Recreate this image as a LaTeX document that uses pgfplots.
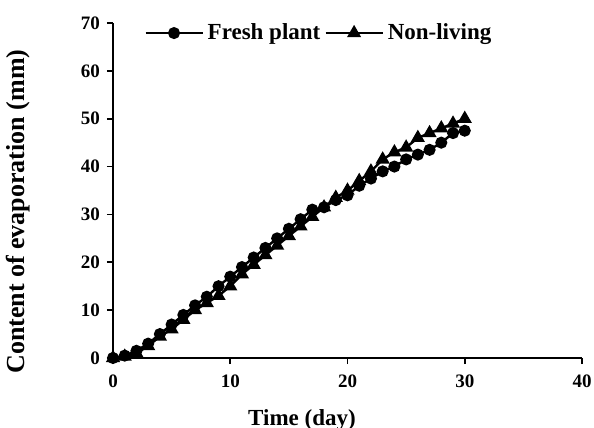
\documentclass[border=0pt]{standalone}
\usepackage{fontspec}
\setmainfont{Liberation Serif}
\usepackage{pgfplots}
\pgfplotsset{compat=1.18}
\begin{document}
\begin{tikzpicture}
\begin{axis}[
  at={(0,0)}, anchor=origin,
  scale only axis, width=234.5pt, height=167.5pt,
  xmin=0, xmax=40, ymin=0, ymax=70,
  xtick={0,10,20,30,40}, ytick={0,10,...,70},
  axis x line=bottom, axis y line=left,
  axis line style={-, line width=1.1pt},
  tick style={line width=0.9pt, black},
  major tick length=3pt,
  tick align=outside,
  /pgf/number format/assume math mode=true,
  tick label style={font=\fontsize{9.5}{11}\selectfont\bfseries},
  xticklabel style={yshift=-2pt},
  xlabel={Time (day)}, ylabel={Content of evaporation (mm)},
  xlabel style={font=\fontsize{11.5}{13}\selectfont\bfseries, at={(axis description cs:0.403,-0.186)}, anchor=center},
  ylabel style={font=\fontsize{13}{15}\selectfont\bfseries, at={(axis description cs:-0.2026,0.437)}, anchor=center},
  clip=false,
  legend columns=2,
  legend style={draw=none, fill=none, at={(axis description cs:0.441,0.97)}, anchor=center,
    font=\fontsize{11.5}{13}\selectfont\bfseries, /tikz/every even column/.append style={column sep=0pt}},
  legend image code/.code={\draw[mark repeat=2,mark phase=2] plot coordinates {(0pt,0pt) (14.25pt,0pt) (28.5pt,0pt)};},
]
\addplot[black, line width=1.2pt, mark=*, mark size=2.4pt] coordinates {
(0,0) (1,0.5) (2,1.5) (3,3) (4,5) (5,7) (6,9) (7,11) (8,12.8) (9,15) (10,17)
(11,19) (12,21) (13,23) (14,25) (15,27) (16,29) (17,31) (18,31.5) (19,33) (20,34)
(21,36) (22,37.5) (23,39) (24,40) (25,41.5) (26,42.5) (27,43.5) (28,45) (29,47) (30,47.5)};
\addlegendentry{Fresh plant}
\addplot[black, line width=1.2pt, mark=triangle*, mark size=2.9pt] coordinates {
(0,0) (1,0.3) (2,1) (3,2.5) (4,4.5) (5,6) (6,8) (7,10) (8,11.5) (9,13) (10,15)
(11,17.5) (12,19.5) (13,21.5) (14,23.5) (15,25.5) (16,27.5) (17,29.5) (18,31.5) (19,33.5) (20,35)
(21,37) (22,39) (23,41.5) (24,43) (25,44) (26,46) (27,47) (28,48) (29,49) (30,50)};
\addlegendentry{Non-living}
\end{axis}
\pgfresetboundingbox
\useasboundingbox (-56.5pt,-35pt) rectangle (240.5pt,179pt);
\end{tikzpicture}
\end{document}
